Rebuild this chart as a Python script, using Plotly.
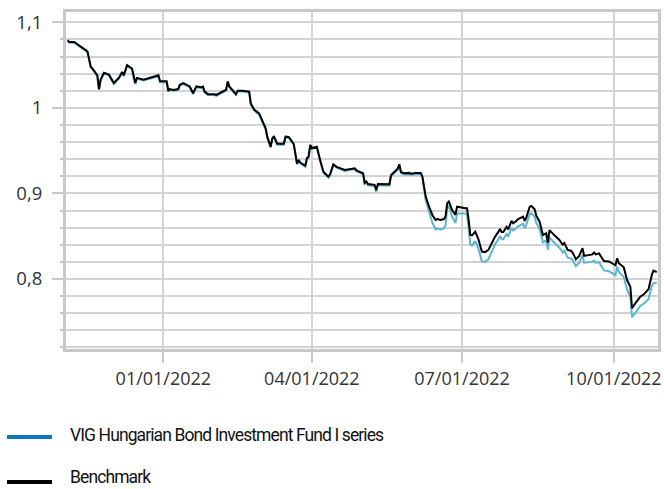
import plotly.graph_objects as go

dates = [
    "2021-11-04", "2021-11-05", "2021-11-08", "2021-11-10", "2021-11-16", "2021-11-18", "2021-11-19",
    "2021-11-22", "2021-11-23", "2021-11-24", "2021-11-26", "2021-11-29", "2021-11-30", "2021-12-02",
    "2021-12-05", "2021-12-07", "2021-12-08", "2021-12-10", "2021-12-13", "2021-12-14", "2021-12-15",
    "2021-12-16", "2021-12-20", "2021-12-22", "2021-12-29", "2021-12-30", "2022-01-03", "2022-01-04",
    "2022-01-05", "2022-01-07", "2022-01-10", "2022-01-11", "2022-01-13", "2022-01-14", "2022-01-17",
    "2022-01-19", "2022-01-21", "2022-01-24", "2022-01-25", "2022-01-26", "2022-01-28", "2022-02-01",
    "2022-02-02", "2022-02-07", "2022-02-08", "2022-02-09", "2022-02-10", "2022-02-14", "2022-02-15",
    "2022-02-18", "2022-02-22", "2022-02-23", "2022-02-25", "2022-02-28", "2022-03-02", "2022-03-04",
    "2022-03-05", "2022-03-07", "2022-03-08", "2022-03-09", "2022-03-11", "2022-03-15", "2022-03-16",
    "2022-03-18", "2022-03-21", "2022-03-22", "2022-03-23", "2022-03-24", "2022-03-25", "2022-03-28",
    "2022-03-29", "2022-03-30", "2022-03-31", "2022-04-01", "2022-04-04", "2022-04-06", "2022-04-08",
    "2022-04-11", "2022-04-12", "2022-04-14", "2022-04-16", "2022-04-21", "2022-04-25", "2022-04-27",
    "2022-04-28", "2022-05-02", "2022-05-03", "2022-05-04", "2022-05-05", "2022-05-09", "2022-05-10",
    "2022-05-11", "2022-05-18", "2022-05-19", "2022-05-23", "2022-05-24", "2022-05-25", "2022-05-27",
    "2022-05-30", "2022-05-31", "2022-06-03", "2022-06-06", "2022-06-07", "2022-06-09", "2022-06-11",
    "2022-06-13", "2022-06-15", "2022-06-16", "2022-06-18", "2022-06-20", "2022-06-21", "2022-06-22",
    "2022-06-23", "2022-06-25", "2022-06-27", "2022-06-28", "2022-07-03", "2022-07-04", "2022-07-05",
    "2022-07-06", "2022-07-07", "2022-07-08", "2022-07-09", "2022-07-11", "2022-07-13", "2022-07-15",
    "2022-07-17", "2022-07-19", "2022-07-21", "2022-07-23", "2022-07-24", "2022-07-25", "2022-07-26",
    "2022-07-28", "2022-07-29", "2022-07-31", "2022-08-01", "2022-08-03", "2022-08-04", "2022-08-07",
    "2022-08-08", "2022-08-09", "2022-08-11", "2022-08-12", "2022-08-14", "2022-08-15", "2022-08-17",
    "2022-08-19", "2022-08-21", "2022-08-22", "2022-08-23", "2022-08-25", "2022-08-29", "2022-08-31",
    "2022-09-01", "2022-09-03", "2022-09-05", "2022-09-06", "2022-09-08", "2022-09-10", "2022-09-12",
    "2022-09-13", "2022-09-18", "2022-09-19", "2022-09-20", "2022-09-22", "2022-09-23", "2022-09-25",
    "2022-09-28", "2022-09-30", "2022-10-02", "2022-10-03", "2022-10-04", "2022-10-07", "2022-10-09",
    "2022-10-11", "2022-10-12", "2022-10-14", "2022-10-17", "2022-10-19", "2022-10-22", "2022-10-24",
    "2022-10-25", "2022-10-27",
]

benchmark = [
    1.079, 1.077, 1.077, 1.074, 1.066, 1.048, 1.046,
    1.038, 1.022, 1.033, 1.041, 1.039, 1.035, 1.029,
    1.035, 1.042, 1.038, 1.050, 1.046, 1.035, 1.029,
    1.035, 1.033, 1.034, 1.038, 1.031, 1.031, 1.020,
    1.022, 1.021, 1.022, 1.027, 1.029, 1.028, 1.025,
    1.017, 1.025, 1.024, 1.025, 1.019, 1.016, 1.016,
    1.015, 1.020, 1.021, 1.031, 1.025, 1.016, 1.020,
    1.020, 1.019, 1.005, 0.998, 0.9935, 0.984, 0.976,
    0.966, 0.9546, 0.9644, 0.967, 0.958, 0.958, 0.9663,
    0.966, 0.958, 0.946, 0.935, 0.939, 0.936, 0.9324,
    0.941, 0.943, 0.9566, 0.953, 0.9546, 0.939, 0.9254,
    0.9196, 0.9224, 0.934, 0.931, 0.9274, 0.929, 0.9294,
    0.927, 0.9235, 0.9125, 0.914, 0.911, 0.910, 0.904,
    0.911, 0.9107, 0.9215, 0.929, 0.934, 0.925, 0.9235,
    0.924, 0.923, 0.924, 0.924, 0.9195, 0.896, 0.8845,
    0.8748, 0.869, 0.870, 0.869, 0.870, 0.873, 0.8885,
    0.8904, 0.8807, 0.875, 0.8845, 0.8826, 0.8826, 0.869,
    0.8514, 0.851, 0.8534, 0.8553, 0.846, 0.832, 0.8314,
    0.834, 0.8418, 0.8495, 0.855, 0.8584, 0.855, 0.855,
    0.861, 0.858, 0.868, 0.865, 0.868, 0.870, 0.873,
    0.868, 0.872, 0.8845, 0.8853, 0.8815, 0.874, 0.867,
    0.8514, 0.8535, 0.8425, 0.857, 0.853, 0.8456, 0.840,
    0.842, 0.834, 0.833, 0.831, 0.823, 0.827, 0.836,
    0.827, 0.8287, 0.831, 0.8287, 0.830, 0.827, 0.821,
    0.8205, 0.818, 0.816, 0.8243, 0.8185, 0.8137, 0.7988,
    0.791, 0.7658, 0.7716, 0.7794, 0.7818, 0.788, 0.8047,
    0.8097, 0.808,
]

fund = [
    1.078, 1.076, 1.076, 1.073, 1.065, 1.047, 1.045,
    1.037, 1.021, 1.032, 1.040, 1.038, 1.034, 1.028,
    1.034, 1.041, 1.037, 1.049, 1.045, 1.034, 1.028,
    1.034, 1.032, 1.033, 1.037, 1.030, 1.030, 1.019,
    1.021, 1.020, 1.021, 1.026, 1.028, 1.027, 1.024,
    1.016, 1.024, 1.023, 1.024, 1.018, 1.015, 1.015,
    1.014, 1.019, 1.020, 1.030, 1.024, 1.015, 1.019,
    1.019, 1.018, 1.004, 0.997, 0.992, 0.983, 0.975,
    0.965, 0.9535, 0.9632, 0.966, 0.957, 0.957, 0.965,
    0.965, 0.957, 0.945, 0.934, 0.938, 0.935, 0.931,
    0.940, 0.942, 0.9555, 0.952, 0.9535, 0.938, 0.924,
    0.9185, 0.921, 0.933, 0.930, 0.926, 0.928, 0.928,
    0.926, 0.9222, 0.911, 0.9125, 0.9095, 0.9085, 0.9015,
    0.9095, 0.909, 0.920, 0.9275, 0.9325, 0.9235, 0.922,
    0.9225, 0.9215, 0.9225, 0.9225, 0.9175, 0.892, 0.8775,
    0.8658, 0.858, 0.859, 0.858, 0.859, 0.863, 0.8825,
    0.8854, 0.8727, 0.8653, 0.8765, 0.8766, 0.8756, 0.860,
    0.8404, 0.839, 0.8414, 0.8443, 0.835, 0.8205, 0.820,
    0.823, 0.8318, 0.8405, 0.8465, 0.8499, 0.8465, 0.8465,
    0.8525, 0.8495, 0.8595, 0.8565, 0.8595, 0.8615, 0.8645,
    0.8595, 0.8635, 0.876, 0.8768, 0.873, 0.8655, 0.8585,
    0.843, 0.845, 0.834, 0.8485, 0.844, 0.8366, 0.831,
    0.833, 0.825, 0.824, 0.822, 0.815, 0.819, 0.828,
    0.819, 0.820, 0.8215, 0.819, 0.8195, 0.8165, 0.810,
    0.809, 0.8065, 0.8045, 0.8145, 0.8085, 0.8022, 0.7875,
    0.7795, 0.7555, 0.7605, 0.7685, 0.771, 0.7765, 0.792,
    0.795, 0.796,
]

tick_dates = ["2022-01-01", "2022-04-01", "2022-07-01", "2022-10-01"]
tick_labels = ["01/01/2022", "04/01/2022", "07/01/2022", "10/01/2022"]
y_ticks = [0.8, 0.9, 1.0, 1.1]
y_labels = ["0,8", "0,9", "1", "1,1"]
legend_names = ["VIG Hungarian Bond Investment Fund I series", "Benchmark"]

FUND_LINE = "#5ab6d0"
FUND_LEGEND = "#0b78c0"
GRID = "#d3d3d3"
AXIS = "#c8c8c8"
TEXT = "#333333"

fig = go.Figure()
fig.add_trace(go.Scatter(x=dates, y=fund, mode="lines", name=legend_names[0],
                         line=dict(color=FUND_LINE, width=2), showlegend=False))
fig.add_trace(go.Scatter(x=dates, y=benchmark, mode="lines", name=legend_names[1],
                         line=dict(color="#000000", width=2), showlegend=False))

fig.update_layout(
    width=664, height=489,
    margin=dict(l=66, r=6, t=12, b=140, autoexpand=False),
    paper_bgcolor="white", plot_bgcolor="white",
    font=dict(family="Open Sans, Noto Sans, sans-serif", size=18, color=TEXT),
    showlegend=False,
)

fig.update_xaxes(
    range=["2021-11-03", "2022-10-27 18:00"],
    tickvals=tick_dates, ticktext=tick_labels,
    showgrid=True, gridcolor=GRID, gridwidth=2,
    showline=True, linecolor=AXIS, linewidth=3, mirror=True,
    ticks="outside", ticklen=11, tickwidth=2, tickcolor=AXIS,
    ticklabelstandoff=0,
    zeroline=False,
    tickfont=dict(size=18, color=TEXT),
)

fig.update_yaxes(
    range=[0.7182, 1.112],
    tickvals=y_ticks, ticktext=y_labels,
    showgrid=True, gridcolor=GRID, gridwidth=2,
    showline=True, linecolor=AXIS, linewidth=3, mirror=True,
    ticks="outside", ticklen=11, tickwidth=2, tickcolor=AXIS,
    ticklabelstandoff=6,
    zeroline=False,
    minor=dict(dtick=0.02, tick0=0.8, ticks="outside", ticklen=3, tickwidth=2,
               tickcolor=AXIS, showgrid=True, gridcolor=GRID, gridwidth=2),
    tickfont=dict(size=18.5, color=TEXT),
)

# manual legend
plot_l, plot_w = 66, 592
plot_b, plot_h = 349, 337


def px_x(px):
    return (px - plot_l) / plot_w


def px_y(py):
    return (plot_b - py) / plot_h


legend_rows = [(437, 435, FUND_LEGEND, legend_names[0]), (482, 477.5, "#000000", legend_names[1])]
for line_y, text_y, col, name in legend_rows:
    fig.add_shape(type="line", xref="paper", yref="paper",
                  x0=px_x(7), x1=px_x(52), y0=px_y(line_y), y1=px_y(line_y),
                  line=dict(color=col, width=4))
    fig.add_annotation(xref="paper", yref="paper", x=px_x(69), y=px_y(text_y),
                       text="<span style='letter-spacing:-0.9px'>" + name + "</span>",
                       showarrow=False, xanchor="left", yanchor="middle", borderpad=0,
                       font=dict(family="Roboto, sans-serif", size=17.5, color="#111111"))

fig.write_html("out.html", config={"displayModeBar": False},
               post_script="document.body.style.margin='0px';")
